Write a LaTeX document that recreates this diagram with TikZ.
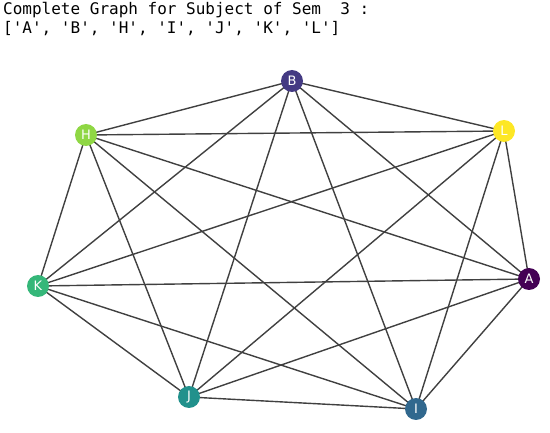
\documentclass[tikz,border=0pt]{standalone}
\usepackage{fontspec}
\setmainfont{DejaVu Sans}
\setmonofont{DejaVu Sans Mono}
\usepackage{xcolor}
\usetikzlibrary{calc}

\definecolor{vA}{HTML}{440154}
\definecolor{vB}{HTML}{443A83}
\definecolor{vH}{HTML}{8FD744}
\definecolor{vI}{HTML}{31688E}
\definecolor{vJ}{HTML}{21918C}
\definecolor{vK}{HTML}{35B779}
\definecolor{vL}{HTML}{FDE725}
\definecolor{edgegray}{HTML}{404040}

\begin{document}
\begin{tikzpicture}[x=1pt,y=-1pt]
                \tikzstyle{vertex}=[circle,minimum size=22pt,inner sep=0pt,text=white,font=\fontsize{13}{13}\selectfont]
                \tikzstyle{edge}=[edgegray,line width=1.4pt]
                \useasboundingbox (0,0) rectangle (550,433);
                \draw (3,15) node [anchor=base west,inner sep=0pt,font=\ttfamily\fontsize{16}{16}\selectfont] (title) {Complete Graph for Subject of Sem\ \ 3 :};
                \draw (3,34) node [anchor=base west,inner sep=0pt,font=\ttfamily\fontsize{16}{16}\selectfont] (list) {['A', 'B', 'H', 'I', 'J', 'K', 'L']};
                \coordinate (pA) at (529,279);
                \coordinate (pB) at (292,81);
                \coordinate (pH) at (86,135);
                \coordinate (pI) at (416,409);
                \coordinate (pJ) at (189,397);
                \coordinate (pK) at (38,286);
                \coordinate (pL) at (504,131);
                \draw [edge] (pA) -- (pB);
                \draw [edge] (pA) -- (pH);
                \draw [edge] (pA) -- (pI);
                \draw [edge] (pA) -- (pJ);
                \draw [edge] (pA) -- (pK);
                \draw [edge] (pA) -- (pL);
                \draw [edge] (pB) -- (pH);
                \draw [edge] (pB) -- (pI);
                \draw [edge] (pB) -- (pJ);
                \draw [edge] (pB) -- (pK);
                \draw [edge] (pB) -- (pL);
                \draw [edge] (pH) -- (pI);
                \draw [edge] (pH) -- (pJ);
                \draw [edge] (pH) -- (pK);
                \draw [edge] (pH) -- (pL);
                \draw [edge] (pI) -- (pJ);
                \draw [edge] (pI) -- (pK);
                \draw [edge] (pI) -- (pL);
                \draw [edge] (pJ) -- (pK);
                \draw [edge] (pJ) -- (pL);
                \draw [edge] (pK) -- (pL);
                \node [vertex,fill=vA] (A) at (pA) {A};
                \node [vertex,fill=vB] (B) at (pB) {B};
                \node [vertex,fill=vH] (H) at (pH) {H};
                \node [vertex,fill=vI] (I) at (pI) {I};
                \node [vertex,fill=vJ] (J) at (pJ) {J};
                \node [vertex,fill=vK] (K) at (pK) {K};
                \node [vertex,fill=vL] (L) at (pL) {L};
\end{tikzpicture}
\end{document}
